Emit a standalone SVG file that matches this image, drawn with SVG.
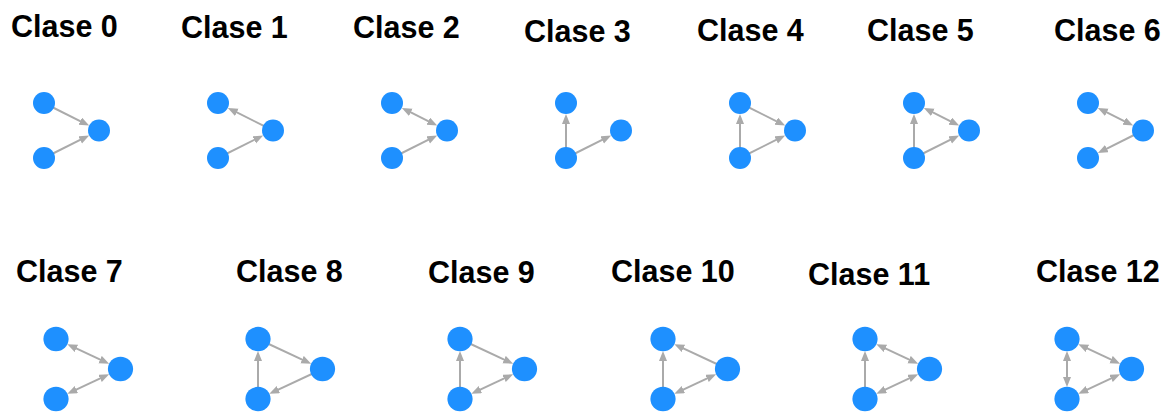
<svg xmlns="http://www.w3.org/2000/svg" xmlns:xlink="http://www.w3.org/1999/xlink" width="1163" height="412" viewBox="0 0 1163 412">
<style>
.t{font-family:"Liberation Sans",Arial,sans-serif;font-weight:bold;font-size:30.5px;fill:#000}
.e{stroke:#aaaaaa;stroke-width:2;fill:none;marker-end:url(#ah)}
.b{marker-start:url(#ah)}
.n{fill:#1e90ff}
</style>
<defs>
<marker id="ah" markerUnits="userSpaceOnUse" markerWidth="11" markerHeight="9" refX="6" refY="4" orient="auto-start-reverse" viewBox="0 0 11 9">
<path d="M0,0 L10,4 L0,8 z" fill="#aaaaaa"/>
</marker>
</defs>
<rect width="1163" height="412" fill="#fff"/>

<g id="titles">
<text class="t" x="11" y="37">Clase 0</text>
<text class="t" x="181" y="38">Clase 1</text>
<text class="t" x="353" y="38">Clase 2</text>
<text class="t" x="524" y="42">Clase 3</text>
<text class="t" x="697" y="41">Clase 4</text>
<text class="t" x="867" y="41">Clase 5</text>
<text class="t" x="1054" y="41">Clase 6</text>
<text class="t" x="16" y="282">Clase 7</text>
<text class="t" x="236" y="282">Clase 8</text>
<text class="t" x="428" y="283">Clase 9</text>
<text class="t" x="611" y="282">Clase 10</text>
<text class="t" x="808" y="285">Clase 11</text>
<text class="t" x="1036" y="282">Clase 12</text>
</g>

<g id="connectors">
<g transform="translate(44,103)">
<path class="e" d="M0,0 L41.58,20.79"/>
<path class="e" d="M0,55 L41.58,34.21"/>
</g>
<g transform="translate(218,103)">
<path class="e" d="M55,27.5 L13.42,6.71"/>
<path class="e" d="M0,55 L41.58,34.21"/>
</g>
<g transform="translate(392,103)">
<path class="e b" d="M13.42,6.71 L41.58,20.79"/>
<path class="e" d="M0,55 L41.58,34.21"/>
</g>
<g transform="translate(566,103)">
<path class="e" d="M0,55 L0,15"/>
<path class="e" d="M0,55 L41.58,34.21"/>
</g>
<g transform="translate(740,103)">
<path class="e" d="M0,55 L0,15"/>
<path class="e" d="M0,0 L41.58,20.79"/>
<path class="e" d="M0,55 L41.58,34.21"/>
</g>
<g transform="translate(914,103)">
<path class="e" d="M0,55 L0,15"/>
<path class="e b" d="M13.42,6.71 L41.58,20.79"/>
<path class="e" d="M0,55 L41.58,34.21"/>
</g>
<g transform="translate(1088,103)">
<path class="e b" d="M13.42,6.71 L41.58,20.79"/>
<path class="e" d="M55,27.5 L13.42,48.29"/>
</g>

<g transform="translate(56,339)">
<path class="e b" d="M14.96,6.96 L49.54,23.04"/>
<path class="e b" d="M14.96,53.04 L49.54,36.96"/>
</g>
<g transform="translate(258,339)">
<path class="e" d="M0,60 L0,16"/>
<path class="e" d="M0,0 L49.54,23.04"/>
<path class="e" d="M64.5,30 L14.96,53.04"/>
</g>
<g transform="translate(460,339)">
<path class="e" d="M0,60 L0,16"/>
<path class="e" d="M0,0 L49.54,23.04"/>
<path class="e b" d="M14.96,53.04 L49.54,36.96"/>
</g>
<g transform="translate(663,339)">
<path class="e" d="M0,60 L0,16"/>
<path class="e" d="M64.5,30 L14.96,6.96"/>
<path class="e b" d="M14.96,53.04 L49.54,36.96"/>
</g>
<g transform="translate(865,339)">
<path class="e" d="M0,60 L0,16"/>
<path class="e b" d="M14.96,6.96 L49.54,23.04"/>
<path class="e b" d="M14.96,53.04 L49.54,36.96"/>
</g>
<g transform="translate(1067,339)">
<path class="e b" d="M0,44 L0,16"/>
<path class="e b" d="M14.96,6.96 L49.54,23.04"/>
<path class="e b" d="M14.96,53.04 L49.54,36.96"/>
</g>
</g>

<g id="nodes">
<g id="c0a"><circle class="n" cx="44" cy="103" r="11"/></g>
<g id="c0b"><circle class="n" cx="44" cy="158" r="11"/></g>
<g id="c0c"><circle class="n" cx="99" cy="130.5" r="11"/></g>
<g id="c1a"><circle class="n" cx="218" cy="103" r="11"/></g>
<g id="c1b"><circle class="n" cx="218" cy="158" r="11"/></g>
<g id="c1c"><circle class="n" cx="273" cy="130.5" r="11"/></g>
<g id="c2a"><circle class="n" cx="392" cy="103" r="11"/></g>
<g id="c2b"><circle class="n" cx="392" cy="158" r="11"/></g>
<g id="c2c"><circle class="n" cx="447" cy="130.5" r="11"/></g>
<g id="c3a"><circle class="n" cx="566" cy="103" r="11"/></g>
<g id="c3b"><circle class="n" cx="566" cy="158" r="11"/></g>
<g id="c3c"><circle class="n" cx="621" cy="130.5" r="11"/></g>
<g id="c4a"><circle class="n" cx="740" cy="103" r="11"/></g>
<g id="c4b"><circle class="n" cx="740" cy="158" r="11"/></g>
<g id="c4c"><circle class="n" cx="795" cy="130.5" r="11"/></g>
<g id="c5a"><circle class="n" cx="914" cy="103" r="11"/></g>
<g id="c5b"><circle class="n" cx="914" cy="158" r="11"/></g>
<g id="c5c"><circle class="n" cx="969" cy="130.5" r="11"/></g>
<g id="c6a"><circle class="n" cx="1088" cy="103" r="11"/></g>
<g id="c6b"><circle class="n" cx="1088" cy="158" r="11"/></g>
<g id="c6c"><circle class="n" cx="1143" cy="130.5" r="11"/></g>

<g id="c7a"><ellipse class="n" cx="56" cy="339" rx="12.6" ry="12.2"/></g>
<g id="c7b"><ellipse class="n" cx="56" cy="399" rx="12.6" ry="12.2"/></g>
<g id="c7c"><ellipse class="n" cx="120.5" cy="369" rx="12.6" ry="12.2"/></g>
<g id="c8a"><ellipse class="n" cx="258" cy="339" rx="12.6" ry="12.2"/></g>
<g id="c8b"><ellipse class="n" cx="258" cy="399" rx="12.6" ry="12.2"/></g>
<g id="c8c"><ellipse class="n" cx="322.5" cy="369" rx="12.6" ry="12.2"/></g>
<g id="c9a"><ellipse class="n" cx="460" cy="339" rx="12.6" ry="12.2"/></g>
<g id="c9b"><ellipse class="n" cx="460" cy="399" rx="12.6" ry="12.2"/></g>
<g id="c9c"><ellipse class="n" cx="524.5" cy="369" rx="12.6" ry="12.2"/></g>
<g id="c10a"><ellipse class="n" cx="663" cy="339" rx="12.6" ry="12.2"/></g>
<g id="c10b"><ellipse class="n" cx="663" cy="399" rx="12.6" ry="12.2"/></g>
<g id="c10c"><ellipse class="n" cx="727.5" cy="369" rx="12.6" ry="12.2"/></g>
<g id="c11a"><ellipse class="n" cx="865" cy="339" rx="12.6" ry="12.2"/></g>
<g id="c11b"><ellipse class="n" cx="865" cy="399" rx="12.6" ry="12.2"/></g>
<g id="c11c"><ellipse class="n" cx="929.5" cy="369" rx="12.6" ry="12.2"/></g>
<g id="c12a"><ellipse class="n" cx="1067" cy="339" rx="12.6" ry="12.2"/></g>
<g id="c12b"><ellipse class="n" cx="1067" cy="399" rx="12.6" ry="12.2"/></g>
<g id="c12c"><ellipse class="n" cx="1131.5" cy="369" rx="12.6" ry="12.2"/></g>
</g>
</svg>
